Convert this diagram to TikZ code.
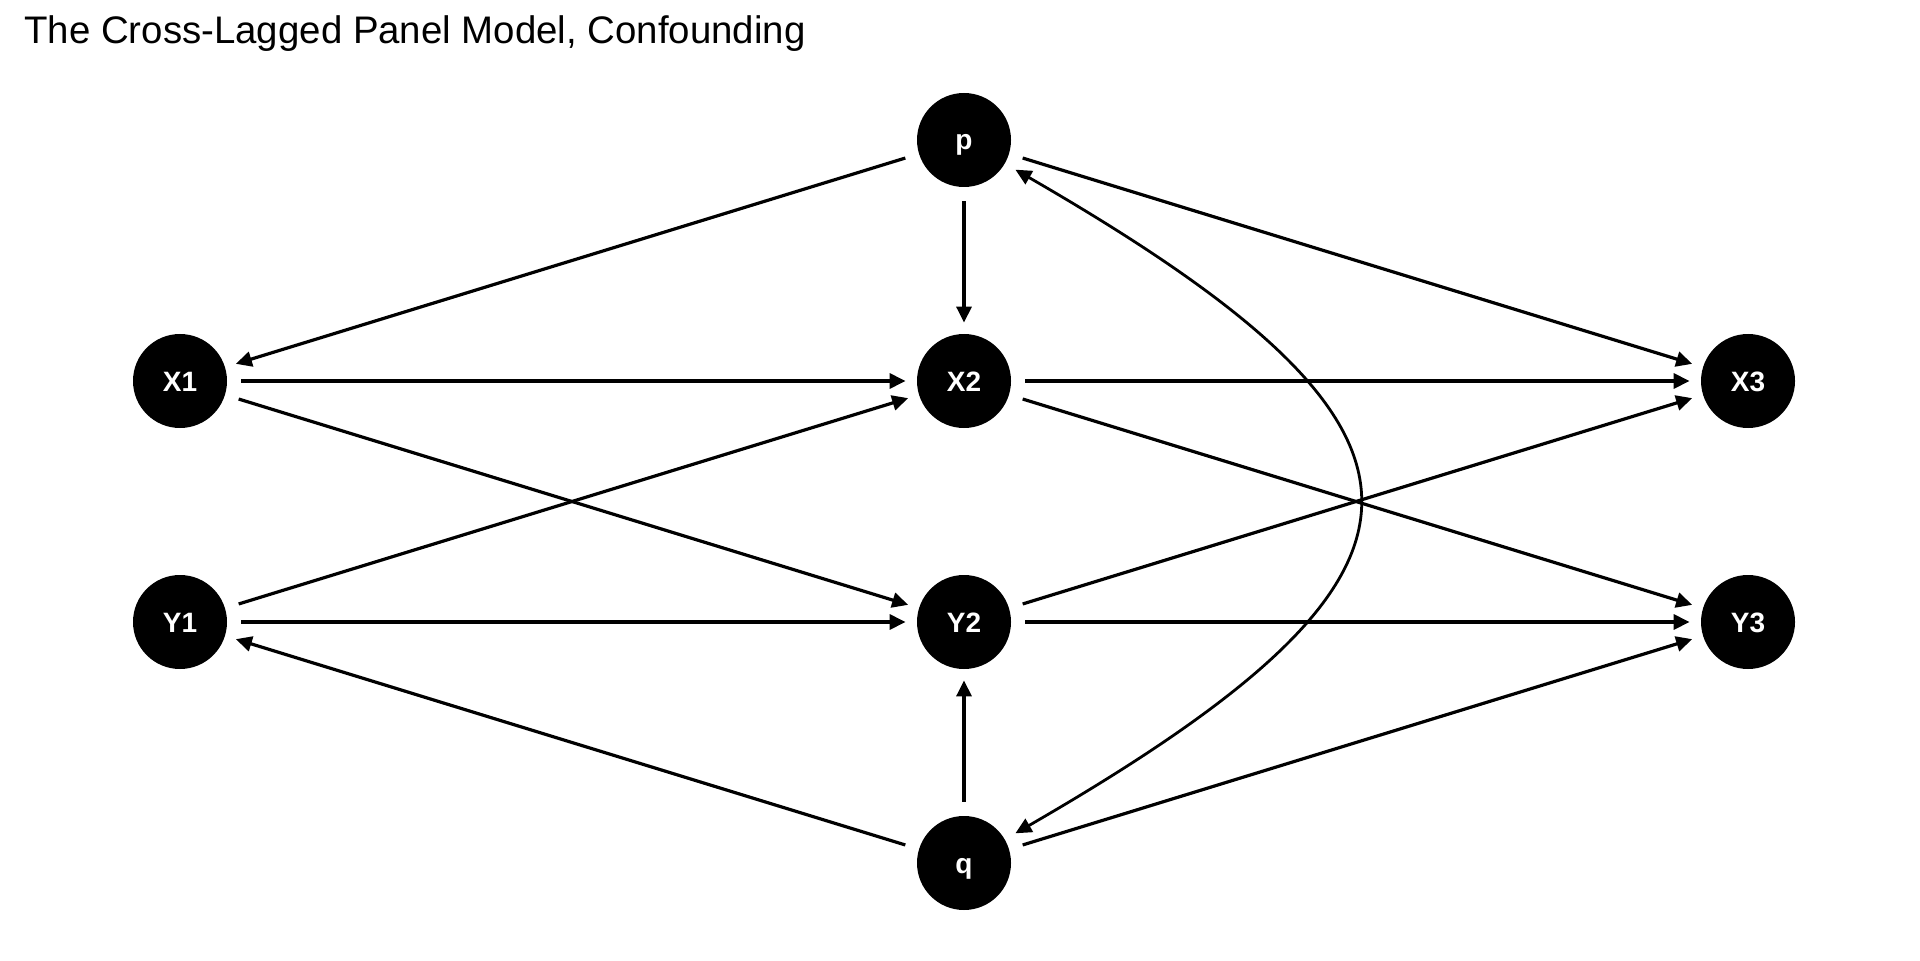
\documentclass[tikz,border=0pt]{standalone}
\usepackage{fontspec}
\setmainfont{Liberation Sans}
\usetikzlibrary{positioning}
\usetikzlibrary{arrows.meta}
\tikzset{>={Triangle[length=8pt,width=7.5pt]}}
\tikzset{vari/.style={circle, fill=black, minimum size=47pt, inner sep=0pt, text=white, text height=10pt, text depth=0pt, font=\fontsize{14}{16}\selectfont\bfseries}}
\tikzset{reg/.style={->, line width=1.6pt, shorten <=7pt, shorten >=5.5pt}}
\tikzset{cov/.style={<->, line width=1.4pt, shorten <=6pt, shorten >=6pt}}

\begin{document}
\begin{tikzpicture}[x=0.5pt, y=0.5pt]
\useasboundingbox (0,0) rectangle (1920,960);
\node[anchor=base west, inner sep=0pt, font=\fontsize{19.2}{23}\selectfont] (title) at (24,916) {The Cross-Lagged Panel Model, Confounding};

\begin{scope}[on grid]
\node[vari] (X1) at (180,579) {X1};
\node[vari] (X2) [right = 392pt of X1] {X2};
\node[vari] (X3) [right = 392pt of X2] {X3};
\node[vari] (Y1) [below = 120.5pt of X1] {Y1};
\node[vari] (Y2) [below = 120.5pt of X2] {Y2};
\node[vari] (Y3) [below = 120.5pt of X3] {Y3};
\node[vari] (p) [above = 120.5pt of X2] {p};
\node[vari] (q) [below = 120.5pt of Y2] {q};
\end{scope}

% confounders
\draw[reg] (p) -- (X1);
\draw[reg] (p) -- (X2);
\draw[reg] (p) -- (X3);
\draw[reg] (q) -- (Y1);
\draw[reg] (q) -- (Y2);
\draw[reg] (q) -- (Y3);

% lagged paths
\draw[reg] (X1) -- (X2);
\draw[reg] (X1) -- (Y2);
\draw[reg] (Y1) -- (X2);
\draw[reg] (Y1) -- (Y2);
\draw[reg] (X2) -- (X3);
\draw[reg] (X2) -- (Y3);
\draw[reg] (Y2) -- (X3);
\draw[reg] (Y2) -- (Y3);

\draw[cov] (p) to[out=-30, in=30, looseness=2.05] (q);
\end{tikzpicture}
\end{document}
